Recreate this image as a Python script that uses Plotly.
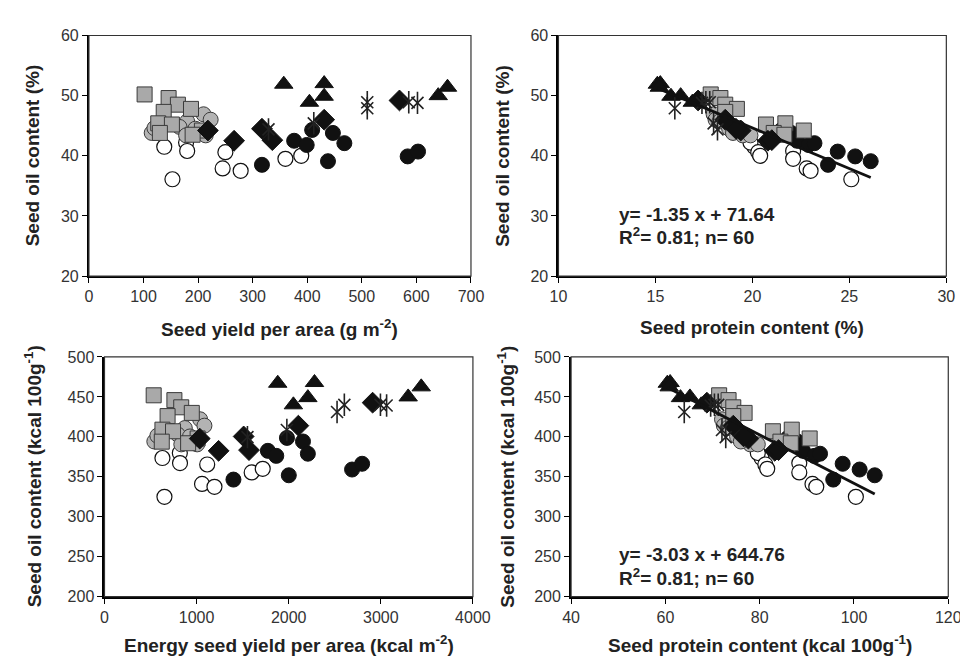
import plotly.graph_objects as go
from plotly.subplots import make_subplots

# ---------------- data ----------------
# gray squares
SQ_YIELD = [102, 146, 163, 187, 137, 127, 152, 130, 207, 190]
SQ_OIL = [50.2, 49.6, 48.5, 47.8, 47.3, 45.4, 45.2, 43.8, 44.2, 43.5]
SQ_PROT = [17.85, 18.35, 18.6, 19.2, 18.6, 21.7, 20.7, 21.1, 22.65, 21.65]
SQ_ENERGY = [534, 759, 833, 948, 685, 629, 744, 622, 1011, 908]
SQ_OILK = [452, 446, 437, 430, 426, 409, 407, 394, 398, 392]
SQ_PROTK = [71.4, 73.4, 74.4, 76.8, 74.4, 86.8, 82.8, 84.4, 90.6, 86.6]

# gray circles
GC_YIELD = [210, 223, 180, 166, 195, 178, 214, 115, 120]
GC_OIL = [46.9, 46.0, 45.7, 44.8, 44.5, 43.4, 43.4, 43.8, 44.6]
GC_PROT = [18.0, 18.1, 18.3, 18.9, 18.8, 19.5, 19.9, 19.0, 19.3]
GC_ENERGY = [1038, 1085, 872, 795, 928, 834, 1006, 541, 574]
GC_OILK = [422, 414, 411, 403, 400.5, 390.6, 390.6, 394.2, 401.4]
GC_PROTK = [72, 72.4, 73.2, 75.6, 75.2, 78, 79.6, 76, 77.2]

# open circles
OC_YIELD = [138, 178, 180, 153, 250, 245, 278, 360, 389]
OC_OIL = [41.5, 42.2, 40.8, 36.1, 40.6, 37.9, 37.5, 39.5, 40.0]
OC_PROT = [20.1, 19.9, 22.1, 25.1, 20.3, 22.8, 23.0, 22.1, 20.4]
OC_ENERGY = [629, 818, 820, 651, 1115, 1059, 1194, 1598, 1718]
OC_OILK = [373.5, 379.8, 367.2, 324.9, 365.4, 341.1, 337.5, 355.5, 360]
OC_PROTK = [80.4, 79.6, 88.4, 100.4, 81.2, 91.2, 92, 88.4, 81.6]

# black circles
BC_YIELD = [317, 409, 447, 376, 399, 468, 438, 584, 603]
BC_OIL = [38.5, 44.3, 43.8, 42.5, 41.8, 42.1, 39.1, 39.9, 40.7]
BC_PROT = [23.9, 21.5, 22.0, 22.3, 22.9, 23.2, 26.1, 25.3, 24.4]
BC_ENERGY = [1400, 1981, 2155, 1774, 1865, 2208, 2001, 2688, 2797]
BC_OILK = [346.5, 398.7, 394.2, 382.5, 376.2, 378.9, 351.9, 359.1, 366.3]
BC_PROTK = [95.6, 86, 88, 89.2, 91.6, 92.8, 104.4, 101.2, 97.6]

# black diamonds
DI_YIELD = [218, 266, 317, 336, 431, 569]
DI_OIL = [44.2, 42.5, 44.5, 42.6, 46.0, 49.2]
DI_PROT = [19.4, 20.8, 19.15, 21.0, 18.6, 17.2]
DI_ENERGY = [1034, 1239, 1511, 1569, 2105, 2911]
DI_OILK = [397.8, 382.5, 400.5, 383.4, 414, 442.8]
DI_PROTK = [77.6, 83.2, 76.6, 84, 74.4, 68.8]

# black triangles
TR_YIELD = [357, 431, 431, 404, 640, 657]
TR_OIL = [51.9, 52.0, 49.9, 48.9, 50.0, 51.4]
TR_PROT = [15.1, 15.25, 15.8, 16.9, 16.3, 15.2]
TR_ENERGY = [1881, 2280, 2208, 2051, 3297, 3439]
TR_OILK = [467.1, 468, 449.1, 440.1, 450, 462.6]
TR_PROTK = [60.4, 61, 63.2, 67.6, 65.2, 60.8]

# asterisks
AS_YIELD = [329, 412, 510, 510, 586, 602]
AS_OIL = [44.4, 45.4, 48.9, 47.9, 48.9, 48.8]
AS_PROT = [18.2, 18.0, 17.6, 16.0, 17.8, 17.4]
AS_ENERGY = [1552, 1980, 2604, 2525, 2996, 3063]
AS_OILK = [399.6, 408.6, 440.1, 431.1, 440.1, 439.2]
AS_PROTK = [72.8, 72, 70.4, 64, 71.2, 69.6]

# regressions shown in the figure
REG_PCT = (-1.35, 71.64)
REG_KCAL = (-3.03, 644.76)
REG_PCT_TEXT = ["y= -1.35 x + 71.64", "R<sup>2</sup>= 0.81; n= 60"]
REG_KCAL_TEXT = ["y= -3.03 x + 644.76", "R<sup>2</sup>= 0.81; n= 60"]

# axis titles
X_TITLES = ["Seed yield per area (g m<sup>-2</sup>)", "Seed protein content (%)",
            "Energy seed yield per area (kcal m<sup>-2</sup>)", "Seed protein content (kcal 100g<sup>-1</sup>)"]
Y_TITLES = ["Seed oil content (%)", "Seed oil content (%)",
            "Seed oil content (kcal 100g<sup>-1</sup>)", "Seed oil content (kcal 100g<sup>-1</sup>)"]

# ---------------- figure ----------------
W, H = 968, 659
FONT = "Liberation Sans, Arial, sans-serif"
TICK_SIZE = 16
TITLE_SIZE = 19

fig = make_subplots(rows=2, cols=2)

GROUPS = [
    ("oc", OC_YIELD, OC_OIL, OC_PROT, OC_ENERGY, OC_OILK, OC_PROTK),
    ("bc", BC_YIELD, BC_OIL, BC_PROT, BC_ENERGY, BC_OILK, BC_PROTK),
    ("gc", GC_YIELD, GC_OIL, GC_PROT, GC_ENERGY, GC_OILK, GC_PROTK),
    ("sq", SQ_YIELD, SQ_OIL, SQ_PROT, SQ_ENERGY, SQ_OILK, SQ_PROTK),
    ("tr", TR_YIELD, TR_OIL, TR_PROT, TR_ENERGY, TR_OILK, TR_PROTK),
    ("di", DI_YIELD, DI_OIL, DI_PROT, DI_ENERGY, DI_OILK, DI_PROTK),
    ("as", AS_YIELD, AS_OIL, AS_PROT, AS_ENERGY, AS_OILK, AS_PROTK),
]

STYLE = {
    "sq": [dict(symbol="square", size=15, color="#a9a9a9", line=dict(color="#3a3a3a", width=1))],
    "gc": [dict(symbol="circle", size=15, color="#b3b3b3", line=dict(color="#3a3a3a", width=1))],
    "oc": [dict(symbol="circle", size=15, color="white", line=dict(color="#111111", width=1.2))],
    "bc": [dict(symbol="circle", size=15, color="#111111", line=dict(color="#111111", width=1))],
    "di": [dict(symbol="diamond", size=16, color="#111111", line=dict(color="#111111", width=1))],
    "tr": [dict(symbol="triangle-up", size=16, color="#111111", line=dict(color="#111111", width=1))],
    "as": [dict(symbol="x-thin-open", size=12, color="#222222", line=dict(color="#222222", width=1.6)),
           dict(symbol="line-ns-open", size=16, color="#222222", line=dict(color="#222222", width=1.6))],
}

for key, yld, oil, prot, energy, oilk, protk in GROUPS:
    panels = [(1, 1, yld, oil), (1, 2, prot, oil), (2, 1, energy, oilk), (2, 2, protk, oilk)]
    for r, c, xs, ys in panels:
        for mk in STYLE[key]:
            fig.add_trace(go.Scatter(x=xs, y=ys, mode="markers", marker=mk,
                                     hoverinfo="x+y"), row=r, col=c)

# regression lines
allprot = SQ_PROT + GC_PROT + OC_PROT + BC_PROT + DI_PROT + TR_PROT + AS_PROT
allprotk = SQ_PROTK + GC_PROTK + OC_PROTK + BC_PROTK + DI_PROTK + TR_PROTK + AS_PROTK
for (slope, icpt), xs, r, c in [(REG_PCT, allprot, 1, 2), (REG_KCAL, allprotk, 2, 2)]:
    x0, x1 = min(xs), max(xs)
    fig.add_trace(go.Scatter(x=[x0, x1], y=[slope * x0 + icpt, slope * x1 + icpt], mode="lines",
                             line=dict(color="#111111", width=2.8), hoverinfo="skip"), row=r, col=c)

# layout of panels in pixels
PANELS = [
    dict(x=(74, 467), y=(20, 267), xr=(0, 700), xd=100, yr=(20, 60), yd=10),
    dict(x=(557, 956), y=(20, 267), xr=(10, 30), xd=5, yr=(20, 60), yd=10),
    dict(x=(90, 469), y=(350, 596), xr=(0, 4000), xd=1000, yr=(200, 500), yd=50),
    dict(x=(570, 958), y=(350, 596), xr=(40, 120), xd=20, yr=(200, 500), yd=50),
]

axis_common = dict(showline=True, linecolor="black", linewidth=2, ticks="outside", ticklen=5,
                   tickwidth=1, tickcolor="black", showgrid=False, zeroline=False,
                   tickfont=dict(family=FONT, size=TICK_SIZE, color="#333333"))

layout_updates = {}
shapes = []
annotations = []
Y_TITLE_X = [16, 500, 16, 503]
X_TITLE_Y = [320, 320, 645, 645]
for i, p in enumerate(PANELS):
    n = "" if i == 0 else str(i + 1)
    layout_updates["xaxis" + n] = dict(axis_common, domain=[p["x"][0] / W, p["x"][1] / W],
                                       range=list(p["xr"]), tick0=p["xr"][0], dtick=p["xd"])
    layout_updates["yaxis" + n] = dict(axis_common, domain=[1 - p["y"][1] / H, 1 - p["y"][0] / H],
                                       range=list(p["yr"]), tick0=p["yr"][0], dtick=p["yd"])
    shapes.append(dict(type="rect", xref="x%s domain" % n, yref="y%s domain" % n,
                       x0=0, x1=1, y0=0, y1=1, line=dict(color="#333333", width=1.2), layer="above"))
    annotations.append(dict(text="<b>%s</b>" % X_TITLES[i], xref="paper", yref="paper",
                            x=(p["x"][0] + p["x"][1]) / 2 / W, y=1 - X_TITLE_Y[i] / H,
                            xanchor="center", yanchor="middle", showarrow=False,
                            font=dict(family=FONT, size=TITLE_SIZE, color="#222222")))
    annotations.append(dict(text="<b>%s</b>" % Y_TITLES[i], xref="paper", yref="paper",
                            x=Y_TITLE_X[i] / W, y=1 - (p["y"][0] + p["y"][1]) / 2 / H,
                            xanchor="center", yanchor="middle", textangle=-90, showarrow=False,
                            font=dict(family=FONT, size=TITLE_SIZE, color="#222222")))

# regression text
for lines, xref, yref, xv, yvals in [(REG_PCT_TEXT, "x2", "y2", 13.0, (30.2, 26.6)),
                                     (REG_KCAL_TEXT, "x4", "y4", 49.7, (253, 224))]:
    for txt, yv in zip(lines, yvals):
        annotations.append(dict(text="<b>%s</b>" % txt, xref=xref, yref=yref, x=xv, y=yv,
                                xanchor="left", yanchor="middle", showarrow=False,
                                font=dict(family=FONT, size=TITLE_SIZE, color="#222222")))

fig.update_layout(**layout_updates)
fig.update_layout(width=W, height=H, margin=dict(l=0, r=0, t=0, b=0),
                  paper_bgcolor="white", plot_bgcolor="white", showlegend=False,
                  shapes=shapes, annotations=annotations,
                  font=dict(family=FONT, size=TICK_SIZE, color="#333333"))

fig.write_html("out.html")
